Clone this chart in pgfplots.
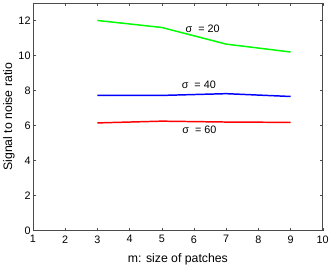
\documentclass[border=0pt]{standalone}
\usepackage{fontspec}
\setmainfont{Liberation Sans}
\usepackage{pgfplots}
\pgfplotsset{compat=1.18}
\begin{document}
\begin{tikzpicture}
\begin{axis}[
  scale only axis,
  width=294bp, height=231bp,
  xmin=1, xmax=10, ymin=0, ymax=13,
  xtick={1,...,10}, ytick={0,2,...,12},
  tick align=inside,
  major tick length=3bp,
  tick style={black!70, line width=0.4pt},
  axis line style={black!70, line width=0.5pt},
  /pgf/number format/assume math mode=true,
  ticklabel style={font=\fontsize{11}{12}\selectfont},
  xticklabel style={yshift=-1.5bp},
  yticklabel style={xshift=1bp},
  label style={font=\fontsize{12.5}{14}\selectfont},
  xlabel={m: size of patches},
  ylabel={Signal to noise ratio},
  xlabel style={yshift=-4bp},
  ylabel style={yshift=-3bp},
  clip=false,
]
\addplot[color={rgb,1:red,0;green,1;blue,0}, line width=1.5bp] coordinates {(3,12.0) (5,11.6) (7,10.65) (9,10.2)};
\addplot[color={rgb,1:red,0;green,0;blue,1}, line width=1.5bp] coordinates {(3,7.72) (5,7.72) (7,7.82) (9,7.66)};
\addplot[color={rgb,1:red,1;green,0;blue,0}, line width=1.5bp] coordinates {(3,6.15) (5,6.25) (7,6.2) (9,6.18)};
\node[font=\fontsize{11}{12}\selectfont] at (axis cs:6.27,11.53) {σ\ \ = 20};
\node[font=\fontsize{11}{12}\selectfont] at (axis cs:6.15,8.32) {σ\ \ = 40};
\node[font=\fontsize{11}{12}\selectfont] at (axis cs:6.17,5.75) {σ\ \ = 60};
\path (rel axis cs:0,1) ++(0,3bp);
\end{axis}
\end{tikzpicture}
\end{document}
